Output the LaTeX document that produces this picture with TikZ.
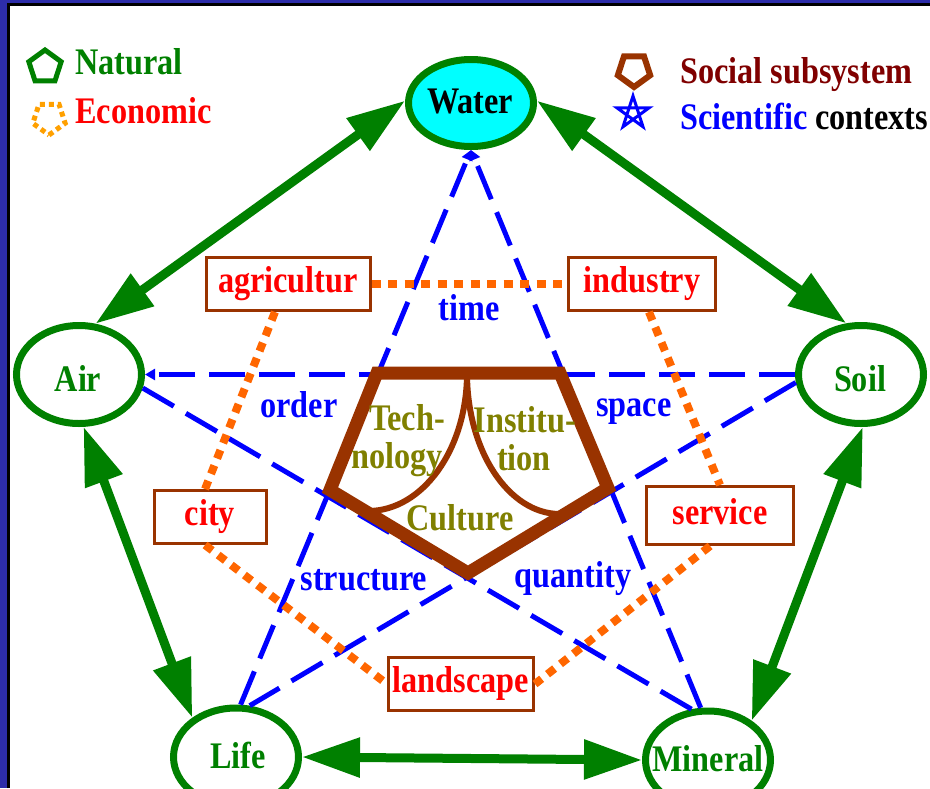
\documentclass[tikz,border=0pt]{standalone}
\usepackage{fontspec}
\setmainfont{Liberation Serif}[FakeStretch=0.86]
\usetikzlibrary{arrows.meta,shapes.geometric}
\definecolor{natgreen}{RGB}{0,128,0}
\definecolor{sciblue}{RGB}{0,0,255}
\definecolor{ecoorange}{RGB}{255,102,0}
\definecolor{iconorange}{RGB}{255,160,0}
\definecolor{socbrown}{RGB}{153,51,0}
\definecolor{socred}{RGB}{128,0,0}
\definecolor{cultolive}{RGB}{128,128,0}
\definecolor{framebg}{RGB}{45,45,170}
\definecolor{econred}{RGB}{255,0,0}
\definecolor{watercyan}{RGB}{0,255,255}
\begin{document}
\begin{tikzpicture}[x=1pt,y=-1pt,
  bigfont/.style={font=\fontsize{37.5}{42}\selectfont\bfseries},
  txt/.style={bigfont, inner sep=0pt, anchor=base},
  sphere/.style={ellipse, draw=natgreen, line width=7pt, minimum width=125pt, minimum height=98pt, inner sep=0pt},
  gArrow/.style={natgreen, line width=9pt, {Triangle[length=58pt,width=38pt]}-{Triangle[length=58pt,width=38pt]}},
  sciLine/.style={sciblue, line width=5pt, dash pattern=on 36pt off 14pt},
  sciTip/.style={-{Triangle[length=10pt,width=11pt]}},
  ecoLine/.style={ecoorange, line width=8pt, dash pattern=on 9pt off 7.5pt},
  ecoBox/.style={draw=socbrown, line width=3pt, fill=white, bigfont, text=econred, text height=26pt, text depth=9pt, inner sep=0pt},
  socLine/.style={socbrown, line width=13pt, line join=miter},
  socCurve/.style={socbrown, line width=6pt},
]
\useasboundingbox (0,0) rectangle (930,788);
% frame
\fill[framebg] (0,0) rectangle (930,788);
\fill[white] (10,6) rectangle (930,788);
\draw[black,line width=3pt] (8.5,788) -- (8.5,4.5) -- (930,4.5);

% natural spheres
\node[sphere, fill=watercyan, minimum height=87pt] (water) at (471,103) {};
\node[sphere] (air) at (79,374.5) {};
\node[sphere] (soil) at (861,374.5) {};
\node[sphere] (life) at (236,757) {};
\node[sphere] (mineral) at (708,760) {};
\node[txt, text=black] (waterT) at (470,113) {Water};
\node[txt, text=natgreen] (airT) at (78,391) {Air};
\node[txt, text=natgreen] (soilT) at (860,391) {Soil};
\node[txt, text=natgreen] (lifeT) at (238,768) {Life};
\node[txt, text=natgreen] (mineralT) at (708,771) {Mineral};

% scientific contexts (pentagram)
\draw[sciLine, sciTip] (life.85) -- (water.270);
\draw[sciLine, sciTip] (mineral.98) -- (water.270);
\draw[sciLine] (air.-12) -- (mineral.108);
\draw[sciLine, sciTip] (soil.180) -- (air.0);
\draw[sciLine] (soil.187) -- (life.75);

% economic boxes
\node[ecoBox, minimum width=164pt, minimum height=53pt] (agri) at (288,284) {agricultur};
\node[ecoBox, minimum width=147pt, minimum height=53pt] (ind) at (642,284) {industry};
\node[ecoBox, minimum width=112pt, minimum height=53pt] (city) at (210,517) {city};
\node[ecoBox, minimum width=147pt, minimum height=58pt] (serv) at (720,515.5) {service};
\node[ecoBox, minimum width=145pt, minimum height=53pt] (land) at (461,684) {landscape};
\draw[ecoLine] (agri.east) -- (ind.west);
\draw[ecoLine] (agri.245) -- (city.100);
\draw[ecoLine] (ind.284) -- (serv.90);
\draw[ecoLine] (city.260) -- (land.west);
\draw[ecoLine] (serv.252) -- (land.east);

% natural arrows
\draw[gArrow] (water.178) -- (air.72);
\draw[gArrow] (water.2) -- (soil.106);
\draw[gArrow] (air.-85) -- (life.138);
\draw[gArrow] (soil.-88) -- (mineral.42);
\draw[gArrow] (life.0) -- (mineral.180);

% social subsystem
\coordinate (p1) at (377,373);
\coordinate (p2) at (560,373);
\coordinate (p3) at (608,488);
\coordinate (p4) at (468,573);
\coordinate (p5) at (330,490);
\coordinate (pm) at (467,373);
\draw[socLine] (p1) -- (p2) -- (p3) -- (p4) -- (p5) -- cycle;
\draw[socCurve] (pm) arc[start angle=0, end angle=90, x radius=99, y radius=138];
\draw[socCurve] (pm) arc[start angle=180, end angle=90, x radius=93, y radius=141];
\node[txt, text=cultolive] (tech1) at (407,430) {Tech-};
\node[txt, text=cultolive] (tech2) at (397,468) {nology};
\node[txt, text=cultolive] (inst1) at (525,432) {Institu-};
\node[txt, text=cultolive] (inst2) at (524,470) {tion};
\node[txt, text=cultolive] (cult) at (460,530) {Culture};

% scientific labels
\node[txt, text=sciblue] (time) at (469,320) {time};
\node[txt, text=sciblue] (order) at (299,417) {order};
\node[txt, text=sciblue] (space) at (634,416) {space};
\node[txt, text=sciblue] (struct) at (364,590) {structure};
\node[txt, text=sciblue] (quant) at (573,587) {quantity};

% legend
\node[regular polygon, regular polygon sides=5, draw=natgreen, line width=5pt, minimum size=34pt, inner sep=0pt] (iconN) at (45,67) {};
\node[regular polygon, regular polygon sides=5, shape border rotate=180, draw=iconorange, line width=5pt, dash pattern=on 5pt off 4pt, minimum size=34pt, inner sep=0pt] (iconE) at (49,118) {};
\node[regular polygon, regular polygon sides=5, shape border rotate=180, draw=socbrown, line width=6pt, minimum size=34pt, inner sep=0pt] (iconS) at (634,70) {};
\draw[sciblue, line width=3pt, line join=miter, shift={(633,113)}] (-90:17) -- (54:17) -- (198:17) -- (-18:17) -- (126:17) -- cycle;
\node[txt, anchor=base west, text=natgreen] (legN) at (75,74) {Natural};
\node[txt, anchor=base west, text=econred] (legE) at (75,123) {Economic};
\node[txt, anchor=base west, text=socred] (legS) at (680,83) {Social subsystem};
\node[txt, anchor=base west, text=black] (legC) at (680,129) {\textcolor{sciblue}{Scientific} contexts};
\end{tikzpicture}
\end{document}
